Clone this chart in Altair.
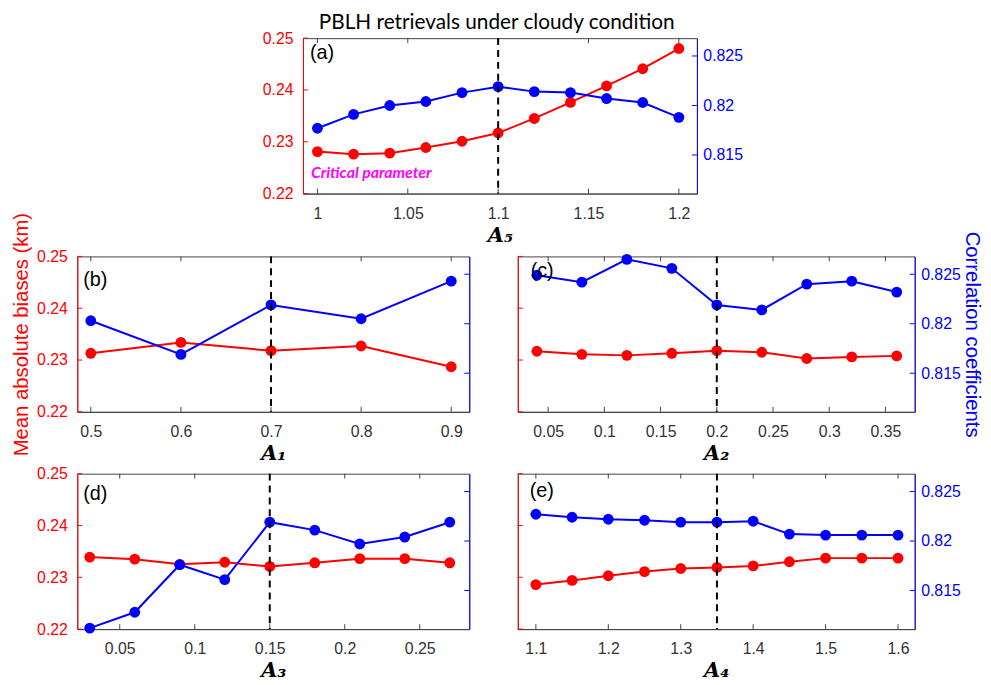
import altair as alt
import pandas as pd

# ---------------- data ----------------
A5_x = [1.00, 1.02, 1.04, 1.06, 1.08, 1.10, 1.12, 1.14, 1.16, 1.18, 1.20]
A5_mab = [0.2281, 0.2276, 0.2278, 0.2289, 0.2301, 0.2317, 0.2345, 0.2376, 0.2408, 0.2441, 0.2480]
A5_cc = [0.8177, 0.8191, 0.8200, 0.8204, 0.8213, 0.8219, 0.8214, 0.8213, 0.8207, 0.8203, 0.8188]

A1_x = [0.5, 0.6, 0.7, 0.8, 0.9]
A1_mab = [0.2313, 0.2334, 0.2318, 0.2327, 0.2287]
A1_cc = [0.8203, 0.8169, 0.8219, 0.8205, 0.8243]

A2_x = [0.04, 0.08, 0.12, 0.16, 0.20, 0.24, 0.28, 0.32, 0.36]
A2_mab = [0.2317, 0.2311, 0.2309, 0.2313, 0.2318, 0.2315, 0.2303, 0.2306, 0.2308]
A2_cc = [0.8249, 0.8242, 0.8265, 0.8256, 0.8219, 0.8214, 0.8240, 0.8243, 0.8232]

A3_x = [0.03, 0.06, 0.09, 0.12, 0.15, 0.18, 0.21, 0.24, 0.27]
A3_mab = [0.2339, 0.2335, 0.2325, 0.2329, 0.2321, 0.2328, 0.2336, 0.2336, 0.2328]
A3_cc = [0.8112, 0.8128, 0.8176, 0.8161, 0.8219, 0.8211, 0.8197, 0.8204, 0.8219]

A4_x = [1.10, 1.15, 1.20, 1.25, 1.30, 1.35, 1.40, 1.45, 1.50, 1.55, 1.60]
A4_mab = [0.2286, 0.2294, 0.2303, 0.2311, 0.2317, 0.2319, 0.2322, 0.2330, 0.2337, 0.2337, 0.2337]
A4_cc = [0.8227, 0.8224, 0.8222, 0.8221, 0.8219, 0.8219, 0.8220, 0.8207, 0.8206, 0.8206, 0.8206]

A5_ticks = [1.0, 1.05, 1.1, 1.15, 1.2]
A1_ticks = [0.5, 0.6, 0.7, 0.8, 0.9]
A2_ticks = [0.05, 0.1, 0.15, 0.2, 0.25, 0.3, 0.35]
A3_ticks = [0.05, 0.1, 0.15, 0.2, 0.25]
A4_ticks = [1.1, 1.2, 1.3, 1.4, 1.5, 1.6]

LEFT_TICKS = [0.22, 0.23, 0.24, 0.25]
RIGHT_TICKS = [0.815, 0.82, 0.825]
LEFT_DOMAIN = [0.22, 0.25]
RIGHT_DOMAIN = [0.8111, 0.8268]

TITLE = "PBLH retrievals under cloudy condition"
LEFT_TITLE = "Mean absolute biases (km)"
RIGHT_TITLE = "Correlation coefficients"
NOTE = "Critical parameter"

FONT = "Liberation Sans"
FRAME = "#444444"
H = 157


def panel(xv, mab, cc, xdom, xticks, xtitle, tag, tagpos, crit, W,
          left_labels, right_labels, left_title=None, right_title=None, note=False):
    df = pd.DataFrame({"x": xv, "mab": mab, "cc": cc})
    xs = alt.Scale(domain=xdom, nice=False, zero=False)
    xaxis = alt.Axis(values=xticks, format="~g", ticks=False, tickSize=0, grid=False,
                     domainColor=FRAME, domainWidth=1, labelColor="#333333", labelFont=FONT,
                     labelFontSize=16, labelPadding=12, labelFlush=False, labelOverlap=False,
                     title=xtitle, titleFont="DejaVu Serif", titleFontStyle="italic",
                     titleFontWeight="bold", titleFontSize=21, titleColor="black", titlePadding=3)
    X = alt.X("x:Q", scale=xs, axis=xaxis)

    lkw = dict(orient="left", values=LEFT_TICKS, format=".2f", ticks=False, tickSize=0, grid=False,
               domainColor="red", domainWidth=1, labels=left_labels, labelColor="red",
               labelFont=FONT, labelFontSize=16, labelPadding=10)
    if left_title:
        lkw.update(title=left_title, titleColor="red", titleFont=FONT, titleFontSize=20.5,
                   titleFontWeight="normal", titlePadding=5)
    else:
        lkw.update(title=None)
    YL = alt.Y("mab:Q", scale=alt.Scale(domain=LEFT_DOMAIN, nice=False, zero=False),
               axis=alt.Axis(**lkw))

    rkw = dict(orient="right", values=RIGHT_TICKS, format="~g", ticks=False, tickSize=0, grid=False,
               domainColor="blue", domainWidth=1, labels=right_labels, labelColor="blue",
               labelFont=FONT, labelFontSize=16, labelPadding=6)
    if right_title:
        rkw.update(title=right_title, titleColor="blue", titleFont=FONT, titleFontSize=20.5,
                   titleFontWeight="normal", titlePadding=1.5)
    else:
        rkw.update(title=None)
    YR = alt.Y("cc:Q", scale=alt.Scale(domain=RIGHT_DOMAIN, nice=False, zero=False),
               axis=alt.Axis(**rkw))

    base = alt.Chart(df)
    xt = pd.DataFrame({"x": xticks})
    lt = pd.DataFrame({"mab": LEFT_TICKS})
    rt = pd.DataFrame({"cc": RIGHT_TICKS})

    left = alt.layer(
        base.mark_line(color="red", strokeWidth=2).encode(x=X, y=YL),
        base.mark_circle(color="red", size=120, opacity=1).encode(x=X, y=YL),
        alt.Chart(lt).mark_rule(color="red", strokeWidth=1).encode(
            y=YL, x=alt.value(0), x2=alt.value(5)),
        alt.Chart(xt).mark_rule(color=FRAME, strokeWidth=1).encode(
            x=X, y=alt.value(0), y2=alt.value(5)),
        alt.Chart(xt).mark_rule(color=FRAME, strokeWidth=1).encode(
            x=X, y=alt.value(H - 5), y2=alt.value(H)),
    )
    right = alt.layer(
        base.mark_line(color="blue", strokeWidth=2).encode(x=X, y=YR),
        base.mark_circle(color="blue", size=120, opacity=1).encode(x=X, y=YR),
        alt.Chart(rt).mark_rule(color="blue", strokeWidth=1).encode(
            y=YR, x=alt.value(W - 5), x2=alt.value(W)),
    )
    cdf = pd.DataFrame({"x": [crit]})
    top_layers = [
        alt.Chart(cdf).mark_rule(color="black", strokeWidth=2, strokeDash=[7, 5]).encode(x=X),
        alt.Chart(cdf).mark_text(text=tag, align="left", baseline="middle", fontSize=20,
                                 font=FONT, color="black").encode(
            x=alt.value(tagpos[0]), y=alt.value(tagpos[1])),
    ]
    if note:
        top_layers.append(
            alt.Chart(cdf).mark_text(text=NOTE, align="left", baseline="middle", fontSize=16,
                                     font="Lato", fontStyle="italic", fontWeight="bold",
                                     color="magenta").encode(
                x=alt.value(8), y=alt.value(136)))
    top = alt.layer(*top_layers)
    return alt.layer(left, right, top).resolve_scale(y="independent").properties(
        width=W, height=H)


pa = panel(A5_x, A5_mab, A5_cc, [0.992, 1.21], A5_ticks, "A₅", "(a)", (7, 15), 1.1, 398,
           True, True, note=True)
pb = panel(A1_x, A1_mab, A1_cc, [0.485, 0.92], A1_ticks, "A₁", "(b)", (6, 24), 0.7, 396,
           True, False, left_title=LEFT_TITLE)
pc = panel(A2_x, A2_mab, A2_cc, [0.023, 0.376], A2_ticks, "A₂", "(c)", (13, 15), 0.2, 401,
           False, True, right_title=RIGHT_TITLE)
pd_ = panel(A3_x, A3_mab, A3_cc, [0.0217, 0.283], A3_ticks, "A₃", "(d)", (6, 21), 0.15, 396,
            True, False)
pe = panel(A4_x, A4_mab, A4_cc, [1.075, 1.623], A4_ticks, "A₄", "(e)", (12, 18), 1.35, 401,
           False, True)

# invisible spacer that pushes panel (a) to the centre
spacer = alt.Chart(pd.DataFrame({"x": [0]})).mark_rule(strokeOpacity=0).encode(
    x=alt.value(1), y=alt.value(1), y2=alt.value(2)
).properties(width=186, height=H, view=alt.ViewBackground(strokeOpacity=0))

row1 = alt.hconcat(spacer, pa, spacing=0)
row2 = alt.hconcat(pb, pc, spacing=47)
row3 = alt.hconcat(pd_, pe, spacing=47)
lower = alt.vconcat(row2, row3, spacing=0.5)

chart = alt.vconcat(row1, lower, spacing=-35.5).properties(
    title=alt.TitleParams(TITLE, font="Lato", fontSize=21, fontWeight="normal",
                          color="black", anchor="middle", offset=-3),
    padding={"left": 3, "top": 0, "right": 0, "bottom": 0},
).configure_view(stroke=FRAME, strokeWidth=1)

chart.save("out.html", embed_options={"renderer": "svg", "actions": False})
